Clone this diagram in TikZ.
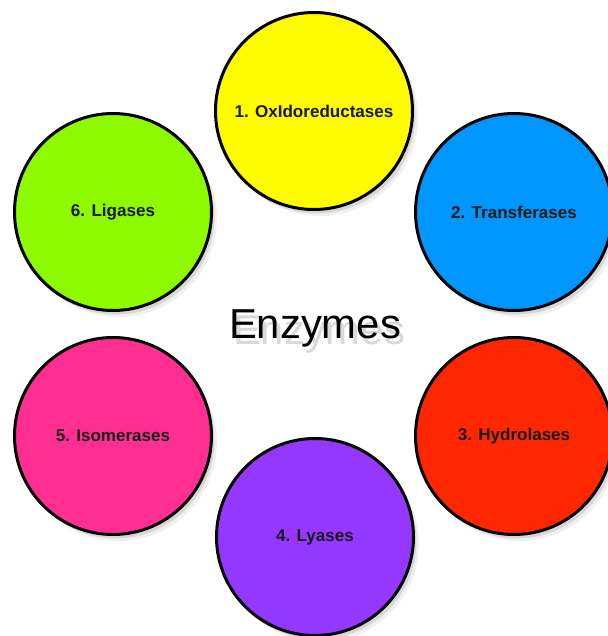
\documentclass[tikz,border=0pt]{standalone}
\usepackage{fontspec}
\setmainfont{Liberation Sans}
\usepackage{tikz}
\usetikzlibrary{shapes,shadows,calc,positioning}
\definecolor{limon}{RGB}{255, 251, 0}
\definecolor{aqua}{RGB}{0, 150, 255}
\definecolor{marrasquino}{RGB}{255, 38, 0}
\definecolor{uva}{RGB}{148, 55, 255}
\definecolor{fresa}{RGB}{255, 47, 146}
\definecolor{lima}{RGB}{142, 250, 0}
\tikzstyle{enzima}=[circle, draw, minimum size=3.94cm,
                    line width=1.7pt, inner sep=0pt,
                    text=black!90, font=\fontsize{9.7}{12}\selectfont\bfseries,
                    drop shadow={shadow xshift=0.11cm, shadow yshift=-0.13cm,
                    opacity=0.12},
                    drop shadow={shadow xshift=0.06cm, shadow yshift=-0.08cm,
                    opacity=0.22}]
\tikzstyle{titulo}=[font=\fontsize{23.8}{28}\selectfont, inner sep=0pt]

\begin{document}
\begin{tikzpicture}
    \useasboundingbox (-6.28,-6.24) rectangle (5.88,6.48);

    \foreach \i/\x/\y/\col/\nombre in {1/0/4.26/limon/OxIdoreductases,
        2/4/2.24/aqua/Transferases,3/4/-2.24/marrasquino/Hydrolases,
        4/0.02/-4.26/uva/Lyases,5/-4.02/-2.24/fresa/Isomerases,
        6/-4.02/2.24/lima/Ligases}
        \draw (\x,\y) node(e\i)[enzima,fill=\col]{\i. \nombre};

    % sombra del titulo
    \draw (0.1,-0.2) node(sombra)[titulo,text=black,opacity=0.15]{Enzymes};
    \draw (0.02,-0.08) node(centro)[titulo]{Enzymes};

\end{tikzpicture}
\end{document}
